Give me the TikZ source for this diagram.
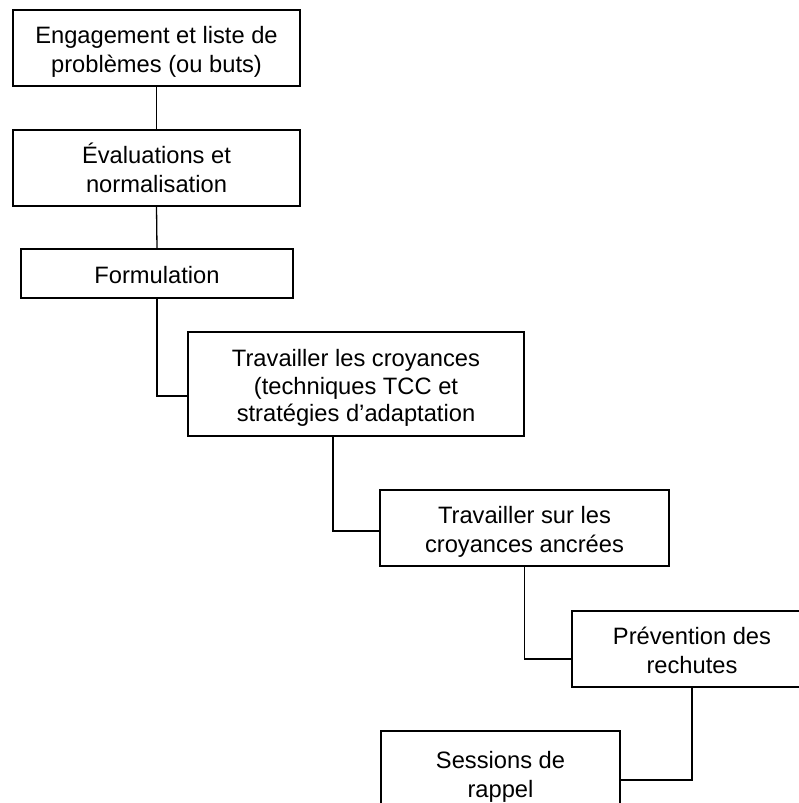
\documentclass[tikz,border=0pt]{standalone}
\usepackage{fontspec}
\setmainfont{Liberation Sans}
\usetikzlibrary{calc}
\newcommand{\tstr}{\rule{0pt}{25pt}}
\newcommand{\bstr}{\rule[-5pt]{0pt}{5pt}}
\begin{document}
\begin{tikzpicture}[x=1pt,y=-1pt,
  box/.style={draw=black,line width=1.3pt,fill=white,rectangle,inner sep=0pt,align=center,
    font=\fontsize{23.7}{28.5}\selectfont},
  link/.style={draw=black,line width=1.3pt}]
\useasboundingbox (0,0) rectangle (799,803);
\clip (0,0) rectangle (799,803);
\node[box,minimum width=287pt,minimum height=76pt] (b1) at (156.5,48) {\tstr Engagement et liste de\\problèmes (ou buts)\bstr};
\node[box,minimum width=287pt,minimum height=76pt] (b2) at (156.5,168) {\tstr Évaluations et\\normalisation\bstr};
\node[box,minimum width=272pt,minimum height=49pt] (b3) at (157,273.5) {\tstr Formulation\bstr};
\node[box,minimum width=336pt,minimum height=104pt,font=\fontsize{23.7}{27.3}\selectfont] (b4) at (356,384) {\tstr Travailler les croyances\\(techniques TCC et\\stratégies d’adaptation\bstr};
\node[box,minimum width=289pt,minimum height=76pt] (b5) at (524.5,528) {\tstr Travailler sur les\\croyances ancrées\bstr};
\node[box,minimum width=240pt,minimum height=76pt] (b6) at (692,649) {\tstr Prévention des\\rechutes\bstr};
\node[box,minimum width=239pt,minimum height=84pt] (b7) at (500.5,773) {\tstr Sessions de\\rappel\bstr};
\draw[link] (b1.south) -- (b2.north);
\draw[link] (b2.south) -- (b3.north);
\draw[link] (b3.south) |- ($(b4.west)+(0,12)$);
\draw[link] ($(b4.south)+(-23,0)$) |- ($(b5.west)+(0,3)$);
\draw[link] (b5.south) |- ($(b6.west)+(0,10)$);
\draw[link] (b6.south) |- ($(b7.east)+(0,7)$);
\end{tikzpicture}
\end{document}
